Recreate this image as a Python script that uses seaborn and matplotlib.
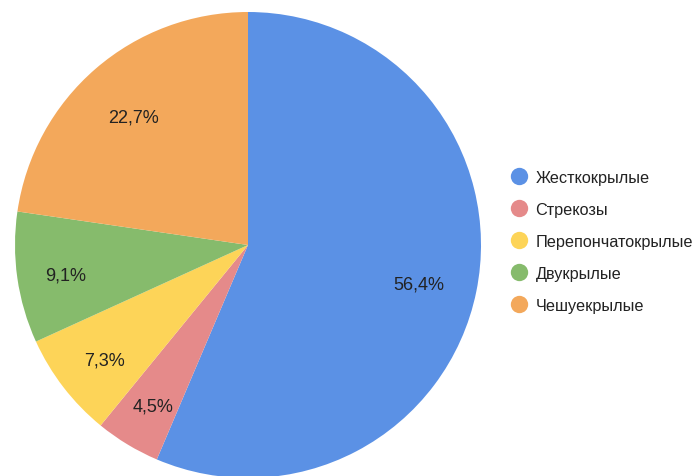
import matplotlib
matplotlib.use("Agg")
import numpy as np
import matplotlib.pyplot as plt
from matplotlib.lines import Line2D
import seaborn as sns

categories = ["Жесткокрылые", "Стрекозы", "Перепончатокрылые", "Двукрылые", "Чешуекрылые"]
shares = [56.4, 4.5, 7.3, 9.1, 22.7]
colors = ["#5B91E5", "#E58A8A", "#FDD458", "#86BB6C", "#F3A85B"]

# radial position of each percentage label (fraction of the radius)
label_radius = [0.75, 0.79, 0.78, 0.79, 0.75]

sns.set_theme(style="white")
plt.rcParams["font.family"] = ["Liberation Sans", "DejaVu Sans"]

W, H = 697, 477
fig = plt.figure(figsize=(W / 100, H / 100), dpi=100)
cx, cy, r = 248, 246, 233
ax = fig.add_axes([(cx - r) / W, (H - cy - r) / H, 2 * r / W, 2 * r / H])

wedges, texts, autotexts = ax.pie(
    shares,
    colors=colors,
    startangle=90,
    counterclock=False,
    radius=1,
    autopct=lambda p: f"{p:.1f}".replace(".", ",") + "%",
    pctdistance=0.76,
    wedgeprops=dict(linewidth=0),
    textprops=dict(fontsize=13, color="#222222"),
)
for w, t, d in zip(wedges, autotexts, label_radius):
    mid = np.deg2rad((w.theta1 + w.theta2) / 2)
    t.set_position((d * np.cos(mid), d * np.sin(mid) - 0.008))
    t.set_verticalalignment("center_baseline")

ax.set_xlim(-1, 1)
ax.set_ylim(-1, 1)
ax.set_aspect("equal")
ax.axis("off")

handles = [Line2D([], [], marker="o", linestyle="none", markersize=12.5,
                  markerfacecolor=c, markeredgewidth=0) for c in colors]
fig.legend(handles, categories, loc="center left",
           bbox_to_anchor=(503 / W, 1 - 242.5 / H), frameon=False,
           fontsize=11.7, labelspacing=1.05, handlelength=1.0,
           handletextpad=0.5, borderpad=0, labelcolor="#222222")

fig.savefig("out.png", dpi=100, facecolor="white")
